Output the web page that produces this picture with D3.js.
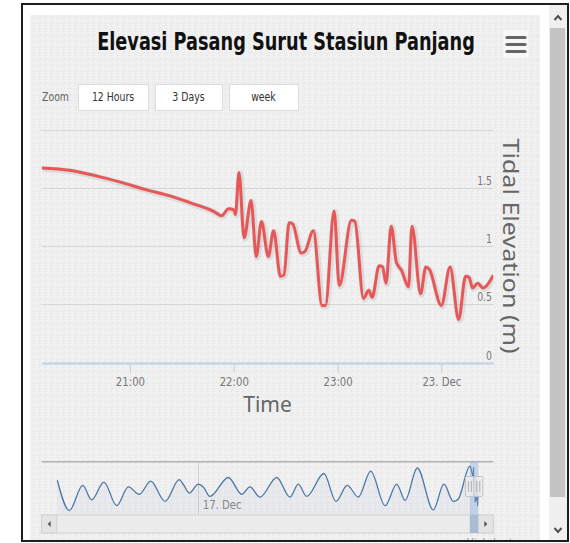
<!DOCTYPE html>
<html>
<head>
<meta charset="utf-8">
<script src="https://cdn.jsdelivr.net/npm/d3@7"></script>
<style>
body{margin:0;background:#fff}
svg{display:block}
</style>
</head>
<body>
<script>
const w=570, h=543;

// chart texts
const chartTitle="Elevasi Pasang Surut Stasiun Panjang";
const yTitle="Tidal Elevation (m)";
const xTitle="Time";
const zoomLabels=["12 Hours","3 Days","week"];
const yTicks=[0,0.5,1,1.5,2];

// main series, 22 -> 23 Dec (times before noon belong to 23 Dec)
const mainTime=["20:09","20:25","20:41","20:54","21:10","21:23","21:37","21:48","21:53","21:57",
  "22:00","22:01","22:03","22:06","22:10","22:13","22:16","22:20","22:23","22:27",
  "22:29","22:32","22:34","22:39","22:41","22:46","22:51","22:53","22:58","23:01",
  "23:08","23:10","23:15","23:18","23:20","23:24","23:26","23:28","23:31","23:34",
  "23:37","23:41","23:43","23:48","23:51","23:53","00:00","00:05","00:10","00:14",
  "00:16","00:18","00:21","00:24","00:30"];
const mainLevel=[1.67,1.65,1.60,1.55,1.48,1.43,1.36,1.30,1.26,1.32,
  1.31,1.27,1.63,1.07,1.39,0.91,1.21,0.91,1.13,0.74,
  0.75,1.20,1.19,0.94,0.95,1.13,0.49,0.49,1.30,0.66,
  1.22,1.21,0.55,0.62,0.56,0.83,0.82,0.68,1.17,0.86,
  0.79,0.65,1.17,0.59,0.82,0.80,0.49,0.82,0.37,0.74,
  0.73,0.64,0.68,0.64,0.75];

// navigator history before the main window ("day hh:mm" in December)
const navTime=["13 23:42","14 05:54","14 12:48","14 17:24","14 23:42","15 06:18","15 12:18","15 17:54",
  "15 23:48","16 07:12","16 14:30","16 16:54","16 19:42","17 00:18","17 02:54","17 06:18",
  "17 15:48","17 22:42","18 02:54","18 08:06","18 16:42","18 23:30","19 03:48","19 08:06",
  "19 17:00","19 23:12","20 05:00","20 10:42","20 17:06","21 00:30","21 06:30","21 10:48",
  "21 17:06","22 01:18","22 06:48","22 11:36","22 14:12"];
const navLevel=[1.21,0.22,1.04,0.57,1.15,0.38,0.99,0.75,
  1.18,0.52,1.23,1.04,0.79,1.08,0.99,0.68,
  1.30,0.75,0.99,0.66,1.30,0.66,1.08,0.68,
  1.43,0.52,1.04,0.66,1.51,0.38,1.08,0.55,
  1.61,0.24,1.08,0.52,0.60];

const narrow='"DejaVu Sans",sans-serif';
const plain='"Noto Sans","DejaVu Sans",sans-serif';

// squeeze a text horizontally so it looks like a condensed face
function squeeze(sel,k){
  sel.each(function(){
    const t=d3.select(this);
    const x0=+t.attr("x")||0, y0=+t.attr("y")||0;
    const kk=typeof k==="function"?k(this):k;
    t.attr("x",null).attr("y",null).attr("transform",`translate(${x0},${y0}) scale(${kk},1)`);
  });
}

function parseMain(s){
  const [hh,mm]=s.split(":").map(Number);
  return new Date(2018,11,hh<12?23:22,hh,mm);
}
function parseNav(s){
  const [d,t]=s.split(" ");
  const [hh,mm]=t.split(":").map(Number);
  return new Date(2018,11,+d,hh,mm);
}
const mainData=mainTime.map((t,i)=>({t:parseMain(t),v:mainLevel[i]}));
const navData=navTime.map((t,i)=>({t:parseNav(t),v:navLevel[i]})).concat(mainData);

let svg=d3.select("body").append("svg").attr("width",w).attr("height",h);
const defs=svg.append("defs");

// sand like texture
const pat=defs.append("pattern").attr("id","sand").attr("patternUnits","userSpaceOnUse")
  .attr("width",6).attr("height",6);
pat.append("rect").attr("width",6).attr("height",6).attr("fill","#efefef");
[[0,0],[3,1],[1,3],[4,4],[5,2],[2,5]].forEach((p,i)=>{
  pat.append("rect").attr("x",p[0]).attr("y",p[1]).attr("width",1).attr("height",1)
    .attr("fill",i%2?"#e4e4e4":"#f8f8f8");
});
defs.append("clipPath").attr("id","frame").append("rect")
  .attr("x",22).attr("y",4).attr("width",546).attr("height",537);

const page=svg.append("g").attr("clip-path","url(#frame)");
page.append("rect").attr("x",30).attr("y",15).attr("width",510).attr("height",540).attr("fill","url(#sand)");

// title
page.append("text").attr("x",286).attr("y",50).attr("text-anchor","middle")
  .style("font-family",narrow).style("font-size","24px").style("font-weight","bold")
  .attr("fill","#111").text(chartTitle)
  .call(squeeze,el=>378/el.getComputedTextLength());

// export menu
page.append("rect").attr("x",503).attr("y",30).attr("width",25).attr("height",28).attr("rx",2)
  .attr("fill","#f7f7f7");
[37.5,44.5,51.5].forEach(y=>{
  page.append("line").attr("x1",507).attr("x2",525).attr("y1",y).attr("y2",y)
    .attr("stroke","#666").attr("stroke-width",3.2).attr("stroke-linecap","round");
});

// range selector
page.append("text").attr("x",42).attr("y",101).style("font-family",narrow).style("font-size","12px")
  .attr("fill","#666").text("Zoom").call(squeeze,0.78);
const btnX=[78,155,229], btnW=[70,67,69];
zoomLabels.forEach((lab,i)=>{
  page.append("rect").attr("x",btnX[i]+0.5).attr("y",84.5).attr("width",btnW[i]).attr("height",26)
    .attr("fill","#fff").attr("stroke","#dcdcdc");
  page.append("text").attr("x",btnX[i]+btnW[i]/2).attr("y",101).attr("text-anchor","middle")
    .style("font-family",narrow).style("font-size","13px").attr("fill","#333").text(lab)
    .call(squeeze,0.72);
});

// main plot
const pl=41.7, pr=493.3, pt=129.5, pb=362.5;
const x=d3.scaleTime().domain(d3.extent(mainData,d=>d.t)).range([pl,pr]);
const y=d3.scaleLinear().domain([0,2]).range([pb,pt]);

page.append("g").selectAll("line").data(yTicks.filter(d=>d>0)).join("line")
  .attr("x1",pl).attr("x2",pr).attr("y1",d=>Math.round(y(d))+0.5).attr("y2",d=>Math.round(y(d))+0.5)
  .attr("stroke","#d6d6d6");

page.append("g").selectAll("text").data(yTicks.filter(d=>d<2)).join("text")
  .attr("x",492).attr("y",d=>y(d)-3).attr("text-anchor","end")
  .style("font-family",narrow).style("font-size","13px").attr("fill","#777")
  .text(d=>d3.format("~g")(d)).call(squeeze,0.72);

page.append("text").attr("transform","translate(503,"+((pt+pb)/2)+") rotate(90)")
  .attr("text-anchor","middle").style("font-family",plain).style("font-size","22px")
  .attr("fill","#666").text(yTitle)
  .attr("textLength",215).attr("lengthAdjust","spacingAndGlyphs");

const fmt=d=>d.getHours()===0?d3.timeFormat("%-d. %b")(d):d3.timeFormat("%H:%M")(d);
const xAxis=d3.axisBottom(x).ticks(d3.timeHour.every(1)).tickFormat(fmt).tickSize(10).tickSizeOuter(0);
const gx=page.append("g").attr("transform","translate(0,"+(pb+0.5)+")").call(xAxis);
gx.select(".domain").attr("stroke","#c0d0e0").attr("stroke-width",2);
gx.selectAll(".tick line").attr("stroke","#c0d0e0");
gx.selectAll(".tick text").attr("y",14).attr("dy","0.71em")
  .style("font-family",narrow).style("font-size","13px").attr("fill","#777").call(squeeze,0.78);

page.append("text").attr("x",(pl+pr)/2).attr("y",412).attr("text-anchor","middle")
  .style("font-family",plain).style("font-size","21px").attr("fill","#666").text(xTitle);

defs.append("clipPath").attr("id","plot").append("rect")
  .attr("x",pl).attr("y",pt-5).attr("width",pr-pl).attr("height",pb-pt+10);

const line=d3.line().x(d=>x(d.t)).y(d=>y(d.v)).curve(d3.curveMonotoneX);
const series=page.append("g").attr("clip-path","url(#plot)");
series.append("path").datum(mainData).attr("d",line).attr("fill","none")
  .attr("stroke","#000").attr("stroke-opacity",0.08).attr("stroke-width",6)
  .attr("transform","translate(1,1)");
series.append("path").datum(mainData).attr("d",line).attr("fill","none")
  .attr("stroke","#e85757").attr("stroke-width",3).attr("stroke-linejoin","round");

// navigator
const nl=57.3, nr=478.3, nt=461.7, nb=515;
const nx=d3.scaleTime().domain(d3.extent(navData,d=>d.t)).range([nl,nr]);
const [vmin,vmax]=d3.extent(navData,d=>d.v);
const pad=(vmax-vmin)*0.1;
const ny=d3.scaleLinear().domain([vmin-pad,vmax+pad]).range([nb,nt]);

const navTicks=nx.ticks(d3.timeMonday.every(1));
page.append("g").selectAll("line").data(navTicks).join("line")
  .attr("x1",d=>Math.round(nx(d))+0.5).attr("x2",d=>Math.round(nx(d))+0.5)
  .attr("y1",nt).attr("y2",nb).attr("stroke","#cfcfcf");
page.append("g").selectAll("text").data(navTicks).join("text")
  .attr("x",d=>nx(d)+5).attr("y",509).style("font-family",narrow).style("font-size","13px")
  .attr("fill","#888").text(d=>d3.timeFormat("%-d. %b")(d)).call(squeeze,0.78);

const navArea=d3.area().x(d=>nx(d.t)).y0(nb).y1(d=>ny(d.v)).curve(d3.curveMonotoneX);
page.append("path").datum(navData).attr("d",navArea).attr("fill","#4572a7").attr("fill-opacity",0.05);
page.append("path").datum(navData).attr("d",navArea.lineY1()).attr("fill","none")
  .attr("stroke","#4d76a8").attr("stroke-width",1.3);

page.append("line").attr("x1",pl).attr("x2",pr).attr("y1",nt).attr("y2",nt)
  .attr("stroke","#b2b1b6").attr("stroke-width",1.5);

// scrollbar
const sbT=515, sbH=18;
page.append("rect").attr("x",pl).attr("y",sbT).attr("width",pr-pl).attr("height",sbH)
  .attr("fill","#ececec").attr("stroke","#d2d2d2");
const selX0=nx(mainData[0].t), selX1=nx(mainData[mainData.length-1].t);
page.append("rect").attr("x",selX0).attr("y",sbT).attr("width",selX1-selX0).attr("height",sbH)
  .attr("fill","#c2cad3");
[[pl,-1],[pr-15,1]].forEach(b=>{
  page.append("rect").attr("x",b[0]).attr("y",sbT).attr("width",15).attr("height",sbH)
    .attr("fill","#e4e4e4").attr("stroke","#d2d2d2");
  const cx=b[0]+7.5, cy=sbT+sbH/2;
  page.append("path").attr("d",b[1]<0?`M${cx+1.5},${cy-3}L${cx-1.5},${cy}L${cx+1.5},${cy+3}Z`
    :`M${cx-1.5},${cy-3}L${cx+1.5},${cy}L${cx-1.5},${cy+3}Z`).attr("fill","#555");
});

// selected range
page.append("rect").attr("x",selX0).attr("y",nt).attr("width",selX1-selX0).attr("height",sbT+sbH-nt)
  .attr("fill","#7fa3d6").attr("fill-opacity",0.35);
[selX0,selX1].forEach(hx=>{
  page.append("rect").attr("x",hx-4.5).attr("y",476.5).attr("width",9).attr("height",20).attr("rx",1.5)
    .attr("fill","#ebebeb").attr("fill-opacity",0.85).attr("stroke","#c4c4c4");
  [-1.5,1.5].forEach(o=>page.append("line").attr("x1",hx+o).attr("x2",hx+o).attr("y1",481).attr("y2",492)
    .attr("stroke","#b0b0b0"));
});

// credits, cut off by the window edge like in the screenshot
page.append("text").attr("x",540).attr("y",546).attr("text-anchor","end")
  .style("font-family",plain).style("font-size","11px").attr("fill","#909090").text("Highcharts.com")
  .call(squeeze,0.9);

// window scrollbar
svg.append("rect").attr("x",549).attr("y",5).attr("width",18).attr("height",535).attr("fill","#f0f0f0");
svg.append("rect").attr("x",550).attr("y",28).attr("width",15).attr("height",469).attr("fill","#c4c4c4");
svg.append("path").attr("d","M554.5,20L558,16L561.5,20").attr("fill","none").attr("stroke","#505050").attr("stroke-width",2);
svg.append("path").attr("d","M554.5,528L558,532L561.5,528").attr("fill","none").attr("stroke","#505050").attr("stroke-width",2);

// window frame
svg.append("rect").attr("x",22).attr("y",4).attr("width",546).attr("height",537)
  .attr("fill","none").attr("stroke","#1e1e1e").attr("stroke-width",2);
</script>
</body>
</html>
